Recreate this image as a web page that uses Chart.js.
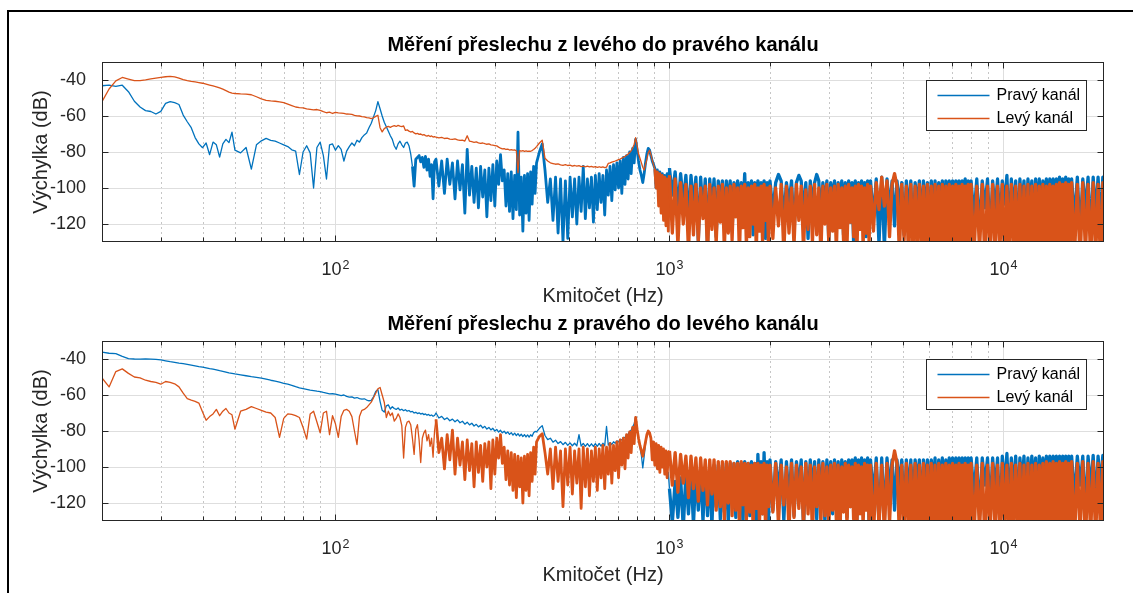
<!DOCTYPE html>
<html lang="cs">
<head>
<meta charset="utf-8">
<title>Měření přeslechu</title>
<script src="https://cdn.jsdelivr.net/npm/chart.js@4.4.1/dist/chart.umd.min.js"></script>
<style>
  html, body { margin: 0; padding: 0; background: #fff; overflow: hidden; }
  body { width: 1133px; height: 593px; position: relative; }
  .frame { position: absolute; left: 7px; top: 10px; width: 1300px; height: 800px; border: 2px solid #000; }
  canvas { position: absolute; left: 0; }
  #chartL2R { top: 0; }
  #chartR2L { top: 279px; }
</style>
</head>
<body>
<div class="frame"></div>
<canvas id="chartL2R" width="1133" height="310"></canvas>
<canvas id="chartR2L" width="1133" height="310"></canvas>
<script>
// frequency bins (Hz)
const freqHz = [
  20,21,22,23,24,25,26,27,28,29,30,31,32,33,34,35,36,37,38,39,40,41,42,43,44,45,46,47,48,49,
  50,52,54,56,58,60,62,64,66,68,70,72,74,76,78,80,82,84,86,88,90,92,94,96,98,
  100,102,104,106,108,110,112,114,116,118,120,122,124,126,128,130,132,134,136,138,140,142,144,146,148,150,152,154,156,158,160,162,164,166,168,170,172,174,176,178,180,182,184,186,188,190,192,194,196,198,
  200,204,208,212,216,220,224,228,232,236,240,244,248,252,256,260,264,268,272,276,280,284,288,292,296,300,304,308,312,316,320,324,328,332,336,340,344,348,352,356,360,364,368,372,376,380,384,388,392,396,
  400,408,416,424,432,440,448,456,464,472,480,488,496,504,512,520,528,536,544,552,560,568,576,584,592,600,608,616,624,632,640,648,656,664,672,680,688,696,704,712,720,728,736,744,752,760,768,776,784,792,800,808,816,824,832,840,848,856,864,872,880,888,896,904,912,920,928,936,944,952,960,968,976,984,992,
  1000,1020,1040,1060,1080,1100,1120,1140,1160,1180,1200,1220,1240,1260,1280,1300,1320,1340,1360,1380,1400,1420,1440,1460,1480,1500,1520,1540,1560,1580,1600,1620,1640,1660,1680,1700,1720,1740,1760,1780,1800,1820,1840,1860,1880,1900,1920,1940,1960,1980,
  2000,2040,2080,2120,2160,2200,2240,2280,2320,2360,2400,2440,2480,2520,2560,2600,2640,2680,2720,2760,2800,2840,2880,2920,2960,3000,3040,3080,3120,3160,3200,3240,3280,3320,3360,3400,3440,3480,3520,3560,3600,3640,3680,3720,3760,3800,3840,3880,3920,3960,
  4000,4080,4160,4240,4320,4400,4480,4560,4640,4720,4800,4880,4960,5040,5120,5200,5280,5360,5440,5520,5600,5680,5760,5840,5920,6000,6080,6160,6240,6320,6400,6480,6560,6640,6720,6800,6880,6960,7040,7120,7200,7280,7360,7440,7520,7600,7680,7760,7840,7920,
  8000,8160,8320,8480,8640,8800,8960,9120,9280,9440,9600,9760,9920,10080,10240,10400,10560,10720,10880,11040,11200,11360,11520,11680,11840,12000,12160,12320,12480,12640,12800,12960,13120,13280,13440,13600,13760,13920,14080,14240,14400,14560,14720,14880,15040,15200,15360,15520,15680,15840,
  16000,16320,16640,16960,17280,17600,17920,18240,18560,18880,19200,19520,19840,20000
];

// z levého do pravého: pravý kanál (dB)
const l2rRight = [
  -43.2,-42.8,-43.5,-42.9,-46.5,-51.8,-55,-57,-57.5,-58.9,-57.4,-53,-52,-52.6,-53.6,-59.5,-63.2,-66.5,-72,-75.5,-77.6,-75,-81.5,-74.5,-76,-82.8,-75.5,-73,-74.8,-69,
  -79,-80.5,-77.5,-89.5,-76,-73.8,-72.4,-73.5,-74,-75,-76,-77,-78.8,-79.5,-92.5,-80,-76.5,-80.5,-100,-77.5,-74.5,-82,-95,-76,-75.5,
  -79,-76.5,-78.5,-85,-79.5,-77,-75,-76.5,-73.5,-74.5,-72,-70.5,-69.5,-66.5,-64,-60.5,-57,-52,-56,-60,-63.5,-66,-68.5,-71,-73,-76.5,-78.5,-75.5,-74,-76,-77.5,-75,-74.5,-76.5,-81,-88,-99,-84,-83,-82,-85.5,-83,-88.5,-82.5,-90,-84,-93.5,-87,-106,-85.5,
  -84,-99,-85,-103,-84,-98,-86,-106,-85,-101,-87,-114,-78.5,-104,-88,-108,-89,-111,-88,-105,-90,-116,-89,-107,-87,-110,-85,-98,-81.5,-96,-90,-110,-92,-113,-91,-117,-93,-112,-69,-115,-94,-124,-93,-114,-92,-118,-91,-109,-88,-103,
  -86,-80,-75.5,-90,-108,-95,-118,-94,-125,-95,-130,-96,-128,-94,-116,-95,-120,-94,-113,-88,-117,-95,-111,-94,-119,-93,-112,-92,-108,-93,-115,-90,-104,-88,-107,-87,-101,-86,-100,-85,-103,-83,-98,-82,-95,-80,-92,-78,-86,-73,-79,-85,-90,-93,-97,-92,-86,-81,-78,-79,-82,-85,-87,-89,-100,-90,-101,-91,-103,-92,-102,-93,-104,-92,-103,
  -89,-104,-91,-112,-92,-108,-93,-118,-93,-110,-94,-129,-94,-115,-95,-131,-95,-112,-95,-127,-96,-109,-96,-120,-96,-111,-96,-124,-97,-108,-96,-117,-97,-112,-92,-121,-97,-110,-96,-126,-97,-113,-96,-119,-97,-109,-96,-128,-97,-114,
  -96,-113,-97,-92.5,-96,-118,-97,-109,-96,-124,-97,-93,-96,-115,-97,-128,-96,-111,-97,-92.5,-96,-120,-97,-112,-96,-130,-97,-108,-96,-122,-97,-114,-96,-126,-97,-110,-96,-119,-97,-131,-96,-112,-97,-123,-96,-109,-97,-127,-96,-116,
  -96,-117,-95,-131,-94,-133,-95,-112,-96,-121,-96,-110,-97,-126,-96,-114,-96,-129,-97,-111,-96,-122,-96,-115,-97,-130,-96,-113,-96,-124,-97,-109,-96,-127,-96,-116,-96,-120,-96,-112,-96,-131,-96,-118,-96,-110,-95,-125,-96,-114,
  -96,-116,-95,-124,-96,-111,-95,-128,-96,-113,-95,-121,-96,-109,-93,-126,-95,-114,-96,-130,-95,-112,-96,-123,-95,-110,-96,-127,-95,-115,-95,-120,-96,-111,-95,-129,-95,-113,-95,-122,-95,-110,-94,-126,-95,-114,-94,-119,-95,-112,
  -95,-118,-94,-125,-95,-112,-94,-127,-94,-115,-94,-121,-94,-110
];

// z levého do pravého: levý kanál (dB)
const l2rLeft = [
  -52,-45,-40.5,-38.6,-39.5,-40.4,-40.3,-39.9,-39.4,-39,-38.6,-38.2,-38,-38.3,-39,-39.8,-40.4,-40.8,-41.1,-41.4,-41.8,-42.3,-42.8,-43.3,-43.8,-44.4,-45.1,-45.9,-46.7,-47.3,
  -47.5,-47.7,-47.8,-48.2,-49.3,-50.5,-51.3,-51.6,-51.8,-52.2,-52.6,-53.4,-54.2,-55,-55.3,-55.5,-56,-56.3,-56.6,-56.4,-56.9,-57.6,-58.2,-57.9,-58.6,
  -58,-58.3,-58.4,-58.6,-58.9,-59,-59.1,-59.6,-59.9,-60,-60.3,-60.5,-60.9,-61.1,-61.4,-61,-60.2,-59.6,-66.5,-68.8,-67,-66.2,-65.8,-66.3,-65.7,-65.4,-65.8,-65.2,-65.6,-65.9,-65.5,-68,-67.7,-68.4,-68.9,-68.6,-69.4,-69.9,-69.6,-70.2,-70,-70.6,-70.3,-70.9,-71.2,-70.8,-71.4,-71.1,-71.7,-71.5,
  -71.8,-72.2,-71.9,-72.5,-72.3,-72.8,-73,-72.7,-73.3,-73.6,-73.4,-73.9,-71,-74,-74.3,-74.6,-74.4,-74.9,-75.2,-75,-75.4,-75.7,-75.5,-76,-76.2,-76.4,-76.6,-77.3,-77.9,-78.3,-78.1,-78.6,-78.4,-78.9,-78.7,-79,-78.8,-79.3,-91.5,-79.2,-79.5,-79.3,-79.6,-79.4,-79.7,-79.5,-79.6,-79.2,-78.6,-77.9,
  -77,-75,-73.5,-83.5,-85,-86,-86.4,-86.8,-86.6,-87.1,-87.4,-87,-87.5,-87.3,-87.8,-87.5,-87.9,-87.6,-88.1,-87.8,-88.2,-87.9,-88.3,-88,-88.4,-88.1,-88.5,-88.2,-88.6,-88.3,-88.7,-88.4,-86.3,-86,-85.6,-85.3,-85,-84.6,-84.2,-83.9,-83.4,-82.9,-82.4,-81.8,-81.1,-80.3,-79.2,-77.8,-75.8,-72,-76.5,-81,-83.5,-86,-88.5,-90,-87,-84,-80.5,-79,-81.5,-84.5,-87,-89.5,-100,-91,-110,-92,-114,-93,-118,-94,-121,-95,-124,
  -93,-125,-95,-132,-97,-120,-98,-135,-99,-126,-98,-130,-100,-117,-99,-138,-98,-123,-100,-131,-99,-119,-98,-134,-100,-125,-99,-129,-98,-116,-100,-137,-99,-122,-98,-132,-100,-127,-99,-120,-98,-135,-100,-124,-99,-130,-98,-118,-100,-133,
  -99,-128,-100,-121,-98,-136,-99,-125,-100,-132,-98,-118,-99,-134,-101,-123,-99,-130,-98,-126,-100,-137,-99,-120,-98,-131,-100,-124,-99,-135,-98,-122,-100,-129,-99,-133,-98,-119,-100,-127,-99,-138,-98,-123,-99,-132,-100,-125,-98,-130,
  -99,-124,-97,-112,-94,-110,-96,-127,-98,-92,-99,-137,-98,-129,-99,-141,-98,-134,-99,-139,-98,-132,-99,-142,-98,-136,-99,-140,-98,-133,-99,-143,-98,-137,-99,-139,-98,-134,-99,-142,-98,-138,-99,-135,-98,-141,-99,-136,-98,-140,
  -98,-139,-99,-135,-98,-142,-99,-137,-98,-140,-99,-134,-98,-143,-99,-138,-98,-136,-99,-141,-98,-135,-99,-139,-98,-142,-99,-137,-98,-140,-99,-134,-98,-143,-99,-138,-98,-136,-99,-141,-98,-135,-97,-139,-98,-142,-97,-137,-98,-140,
  -97,-138,-98,-142,-97,-136,-98,-141,-97,-139,-98,-143,-97,-137
];

// z pravého do levého: pravý kanál (dB)
const r2lRight = [
  -36.2,-36.8,-37,-38.5,-39.8,-40,-40.1,-40,-40.1,-40.2,-40.5,-41,-41.5,-41.9,-42.3,-42.6,-43,-43.4,-43.8,-44.2,-44.5,-44.9,-45.3,-45.6,-46,-46.5,-46.9,-47.3,-47.7,-48,
  -48.3,-48.8,-49.3,-49.8,-50.2,-50.6,-51.2,-51.8,-52.3,-52.9,-53.5,-54,-54.6,-55.4,-56.1,-56.5,-56.9,-57.3,-57.6,-57.9,-58.1,-58.6,-59,-59.4,-59.3,
  -59.5,-59.9,-60.3,-60,-60.8,-61.2,-61,-61.7,-61.4,-62,-62.3,-62.1,-62.8,-63.2,-63,-61,-58,-57,-63.5,-68.5,-69.5,-66,-65.5,-67.8,-66.5,-67.5,-68,-67.2,-68.4,-67.9,-68.7,-68.2,-69,-68.6,-69.4,-69.1,-70,-69.6,-70.3,-69.9,-70.6,-70.2,-70.9,-70.5,-71.2,-70.8,-71.5,-71.1,-71.8,-71.4,
  -70,-72.8,-71.9,-73.6,-72.7,-74.3,-73.4,-74.9,-73.8,-75.4,-74.6,-76.2,-75.1,-76.6,-75.7,-77.2,-76.3,-77.7,-76.8,-78.3,-77.4,-78.9,-78,-79.4,-78.5,-80,-79.1,-80.6,-79.6,-81,-80.1,-81.4,-80.5,-81.9,-80.9,-82.3,-81.2,-82.6,-81.5,-82.8,-81.8,-83.1,-82,-83.3,-82.2,-83.4,-82.1,-82.9,-81,-80.2,
  -80.5,-78.5,-77,-82.5,-84.8,-84,-86.2,-85.1,-87,-85.9,-87.6,-86.3,-88,-86.6,-88.2,-86.8,-88.3,-82,-88.4,-86.9,-88.5,-87,-88.6,-87.1,-88.6,-87,-88.5,-86.9,-88.4,-86.8,-88.2,-77.5,-87.9,-86.4,-87.5,-86,-86.8,-85.5,-86,-84.7,-85,-83.6,-83.7,-82.2,-81.9,-80.3,-79.5,-77.7,-76,-72,-78.5,-84.5,-89,-93.5,-100.5,-94,-87,-82.5,-80.5,-81.5,-84,-86.5,-88.5,-91,-89.5,-93,-91.5,-95.5,-93.5,-98,-96,-101,-99,-106,-103,
  -112,-131,-108,-128,-106,-134,-104,-126,-103,-132,-102,-124,-101,-130,-100,-127,-100,-133,-99,-122,-99,-129,-99,-125,-98,-131,-98,-120,-98,-128,-97,-124,-98,-132,-97,-119,-98,-127,-97,-123,-98,-130,-93,-121,-97,-126,-92,-118,-97,-129,
  -96,-124,-97,-113,-96,-130,-97,-119,-96,-127,-97,-111,-96,-133,-97,-121,-96,-115,-97,-129,-96,-118,-97,-131,-96,-112,-97,-126,-96,-120,-97,-132,-96,-114,-97,-128,-96,-122,-96,-110,-95,-130,-96,-117,-95,-125,-96,-113,-95,-131,
  -96,-116,-95,-131,-95,-129,-95,-112,-96,-124,-96,-110,-96,-127,-96,-115,-96,-121,-96,-109,-96,-130,-96,-113,-96,-125,-96,-111,-95,-128,-96,-116,-95,-120,-96,-112,-95,-126,-95,-110,-95,-123,-95,-114,-95,-129,-95,-111,-95,-122,
  -95,-115,-95,-127,-95,-110,-95,-124,-95,-113,-95,-130,-94,-111,-92.5,-121,-95,-114,-94,-128,-95,-110,-94,-123,-95,-116,-94,-112,-95,-126,-94,-110,-95,-119,-94,-113,-94,-128,-94,-111,-94,-122,-94,-115,-94,-109,-94,-125,-94,-112,
  -94,-118,-94,-110,-94,-126,-94,-113,-93.5,-121,-94,-111,-93.5,-115
];

// z pravého do levého: levý kanál (dB)
const r2lLeft = [
  -50.5,-55.5,-47,-45.5,-48,-50,-50.5,-51.8,-52.5,-53,-54,-52.5,-53,-53.8,-55.5,-59,-62,-62.8,-63.5,-64.5,-69.5,-74,-72,-70.5,-68,-71.5,-69,-67.5,-70,-71,
  -79,-69,-68,-66.5,-67.5,-68.5,-69.5,-70,-72.5,-83.5,-73,-70.5,-70.8,-71.5,-72.5,-78,-84.5,-70.5,-69,-75,-81,-70,-69,-82,-71.5,
  -76,-83.5,-72,-68.5,-68,-69,-72,-80,-87.5,-72,-68.5,-68,-67,-65.5,-64,-61.5,-59,-56.5,-55.8,-60,-64,-72.5,-69,-71.5,-70,-74.5,-73,-70.5,-72.5,-77,-95,-78,-75,-74.5,-76.5,-84,-93,-79,-76.5,-85,-97.5,-84,-81,-79.5,-85.5,-82,-88.5,-84,-94.5,-80,
  -73.5,-92,-84,-101,-82,-96,-79.5,-104,-84,-99,-86,-107,-85,-102,-87,-111,-86,-103,-88,-108,-87,-100,-86,-112,-85,-104,-84,-95,-82,-98,-89,-107,-91,-110,-92,-113,-93,-117,-94,-111,-95,-120,-94,-113,-93,-116,-92,-108,-89,-104,
  -86,-83,-81.5,-92,-104,-90,-112,-89,-108,-91,-122,-90,-110,-89,-115,-91,-109,-90,-123,-89,-111,-90,-116,-91,-108,-89,-113,-90,-106,-88,-112,-89,-104,-87,-109,-88,-102,-86,-106,-85,-99,-84,-101,-82,-95,-80.5,-92,-78,-87,-72.5,-79,-84,-88,-91,-94,-90,-86,-82,-80,-81,-84,-96,-86,-99,-87,-101,-88,-103,-89,-100,-90,-104,-91,-106,-92,
  -91,-110,-92,-114,-93,-109,-94,-117,-94,-112,-95,-119,-95,-113,-96,-121,-96,-115,-96,-124,-97,-122,-97,-130,-97,-120,-97,-127,-98,-124,-98,-133,-97,-121,-98,-129,-98,-125,-99,-134,-98,-123,-98,-131,-99,-126,-98,-135,-99,-122,
  -99,-125,-98,-132,-99,-121,-100,-135,-98,-128,-99,-123,-100,-133,-98,-126,-99,-137,-100,-122,-99,-131,-98,-127,-100,-134,-99,-124,-98,-130,-99,-136,-100,-125,-98,-132,-99,-122,-100,-129,-98,-135,-99,-126,-100,-133,-98,-124,-99,-131,
  -99,-140,-98,-133,-99,-137,-98,-131,-99,-91,-98,-139,-99,-135,-98,-142,-99,-137,-98,-140,-99,-134,-98,-143,-99,-138,-98,-136,-99,-141,-98,-135,-99,-142,-98,-137,-99,-139,-98,-134,-99,-143,-98,-138,-99,-136,-98,-141,-99,-137,
  -98,-140,-99,-136,-98,-143,-99,-138,-98,-135,-99,-141,-98,-137,-99,-142,-98,-139,-99,-135,-98,-141,-99,-138,-98,-143,-99,-136,-98,-140,-99,-137,-98,-142,-97,-138,-98,-135,-97,-141,-98,-139,-97,-136,-98,-142,-97,-138,-98,-140,
  -97,-141,-98,-137,-97,-143,-98,-138,-97,-140,-98,-136,-97,-139
];

const yTicks = [-120, -100, -80, -60, -40];
const xMajor = [100, 1000, 10000];
const xMinor = [30, 40, 50, 60, 70, 80, 90, 200, 300, 400, 500, 600, 700, 800, 900,
                2000, 3000, 4000, 5000, 6000, 7000, 8000, 9000];

const BLUE = '#0072BD';
const ORANGE = '#D95319';
const AXIS = '#262626';
const FONT = '"Liberation Sans", Arial, Helvetica, sans-serif';

Chart.defaults.font.family = FONT;

[l2rRight, l2rLeft, r2lRight, r2lLeft].forEach((s, i) => {
  if (s.length !== freqHz.length) console.warn('series', i, s.length, freqHz.length);
});

function toPoints(values) {
  return freqHz.map((f, i) => ({ x: f, y: values[i] }));
}

// thicker strokes where the spectrum turns into dense noise
function noiseWidth(noiseFrom) {
  return ctx => {
    const f = ctx.p0.parsed.x;
    if (f >= 1000) return 3.3;
    if (f >= noiseFrom) return 2.8;
    return 1.3;
  };
}

// grid, box with inward ticks, exponent tick labels and legend in MATLAB style
const matlabAxes = {
  id: 'matlabAxes',
  beforeDatasetsDraw(chart) {
    const { ctx, chartArea: a, scales: { x, y } } = chart;
    ctx.save();
    ctx.lineWidth = 1;
    ctx.strokeStyle = '#c6c6c6';
    ctx.setLineDash([2, 3]);
    xMinor.forEach(f => {
      const px = Math.round(x.getPixelForValue(f)) + 0.5;
      ctx.beginPath(); ctx.moveTo(px, a.top); ctx.lineTo(px, a.bottom); ctx.stroke();
    });
    ctx.setLineDash([]);
    ctx.strokeStyle = '#dedede';
    xMajor.forEach(f => {
      const px = Math.round(x.getPixelForValue(f)) + 0.5;
      ctx.beginPath(); ctx.moveTo(px, a.top); ctx.lineTo(px, a.bottom); ctx.stroke();
    });
    yTicks.forEach(v => {
      const py = Math.round(y.getPixelForValue(v)) + 0.5;
      ctx.beginPath(); ctx.moveTo(a.left, py); ctx.lineTo(a.right, py); ctx.stroke();
    });
    ctx.restore();
  },
  afterDatasetsDraw(chart) {
    const { ctx, chartArea: a, scales: { x, y } } = chart;
    const L = Math.round(a.left) + 0.5, R = Math.round(a.right) - 0.5;
    const T = Math.round(a.top) + 0.5, B = Math.round(a.bottom) - 0.5;
    ctx.save();
    ctx.strokeStyle = AXIS;
    ctx.lineWidth = 1;
    ctx.strokeRect(L, T, R - L, B - T);
    ctx.beginPath();
    yTicks.forEach(v => {
      const py = Math.round(y.getPixelForValue(v)) + 0.5;
      ctx.moveTo(L, py); ctx.lineTo(L + 6, py);
      ctx.moveTo(R, py); ctx.lineTo(R - 6, py);
    });
    xMajor.concat(xMinor).forEach(f => {
      const px = Math.round(x.getPixelForValue(f)) + 0.5;
      const len = xMajor.includes(f) ? 6 : 4;
      ctx.moveTo(px, B); ctx.lineTo(px, B - len);
      ctx.moveTo(px, T); ctx.lineTo(px, T + len);
    });
    ctx.stroke();

    // x tick labels as powers of ten
    ctx.fillStyle = AXIS;
    ctx.textBaseline = 'alphabetic';
    xMajor.forEach(f => {
      const exp = String(Math.round(Math.log10(f)));
      ctx.font = '18px ' + FONT;
      const wBase = ctx.measureText('10').width;
      ctx.font = '12.5px ' + FONT;
      const wExp = ctx.measureText(exp).width;
      const left = x.getPixelForValue(f) - (wBase + wExp + 1) / 2;
      ctx.font = '18px ' + FONT;
      ctx.fillText('10', left, a.bottom + 33);
      ctx.font = '12.5px ' + FONT;
      ctx.fillText(exp, left + wBase + 1, a.bottom + 27);
    });

    // legend
    const lw = 160, lh = 50;
    const lx = Math.round(a.right - 17.6 - lw) + 0.5;
    const ly = Math.round(a.top + 17.6) + 0.5;
    ctx.fillStyle = '#fff';
    ctx.fillRect(lx, ly, lw, lh);
    ctx.strokeStyle = AXIS;
    ctx.strokeRect(lx, ly, lw, lh);
    ctx.font = '16px ' + FONT;
    ctx.textBaseline = 'middle';
    chart.data.datasets.forEach((ds, i) => {
      const ry = ly + 15 + i * 23;
      ctx.strokeStyle = ds.borderColor;
      ctx.lineWidth = 1.3;
      ctx.beginPath(); ctx.moveTo(lx + 11, ry); ctx.lineTo(lx + 63, ry); ctx.stroke();
      ctx.fillStyle = '#000';
      ctx.fillText(ds.label, lx + 70, ry);
    });
    ctx.restore();
  }
};

function makeChart(canvasId, title, rightValues, leftValues, rightNoise, leftNoise) {
  return new Chart(document.getElementById(canvasId), {
    type: 'line',
    data: {
      datasets: [
        { label: 'Pravý kanál', data: toPoints(rightValues), borderColor: BLUE, order: 2,
          segment: { borderWidth: noiseWidth(rightNoise) } },
        { label: 'Levý kanál', data: toPoints(leftValues), borderColor: ORANGE, order: 1,
          segment: { borderWidth: noiseWidth(leftNoise) } }
      ]
    },
    options: {
      responsive: false,
      animation: false,
      events: [],
      devicePixelRatio: 1,
      layout: { padding: { top: 0, left: 0, right: 29, bottom: 1.3 } },
      elements: {
        line: { borderWidth: 1.3, tension: 0, borderJoinStyle: 'round', fill: false },
        point: { radius: 0 }
      },
      datasets: { line: { clip: 0 } },
      scales: {
        x: {
          type: 'logarithmic',
          min: 20,
          max: 20000,
          grid: { display: false },
          border: { display: false },
          ticks: { display: false },
          afterFit: s => { s.height = 66.7; },
          title: {
            display: true,
            text: 'Kmitočet (Hz)',
            color: AXIS,
            font: { size: 20 },
            padding: { top: 0, bottom: 0 }
          }
        },
        y: {
          min: -130,
          max: -30,
          afterBuildTicks: s => { s.ticks = yTicks.map(v => ({ value: v })); },
          grid: { display: false },
          border: { display: false },
          ticks: { color: AXIS, padding: 8, font: { size: 18 } },
          afterFit: s => { s.width = 102; },
          title: {
            display: true,
            text: 'Výchylka (dB)',
            color: AXIS,
            font: { size: 20 },
            padding: { top: 29, bottom: 0 }
          }
        }
      },
      plugins: {
        legend: { display: false },
        tooltip: { enabled: false },
        title: {
          display: true,
          text: title,
          fullSize: false,
          color: '#000',
          font: { size: 20, weight: 'bold' },
          padding: { top: 33, bottom: 5 }
        }
      }
    },
    plugins: [matlabAxes]
  });
}

makeChart('chartL2R', 'Měření přeslechu z levého do pravého kanálu', l2rRight, l2rLeft, 170, 900);
makeChart('chartR2L', 'Měření přeslechu z pravého do levého kanálu', r2lRight, r2lLeft, 100000, 200);
</script>
</body>
</html>
